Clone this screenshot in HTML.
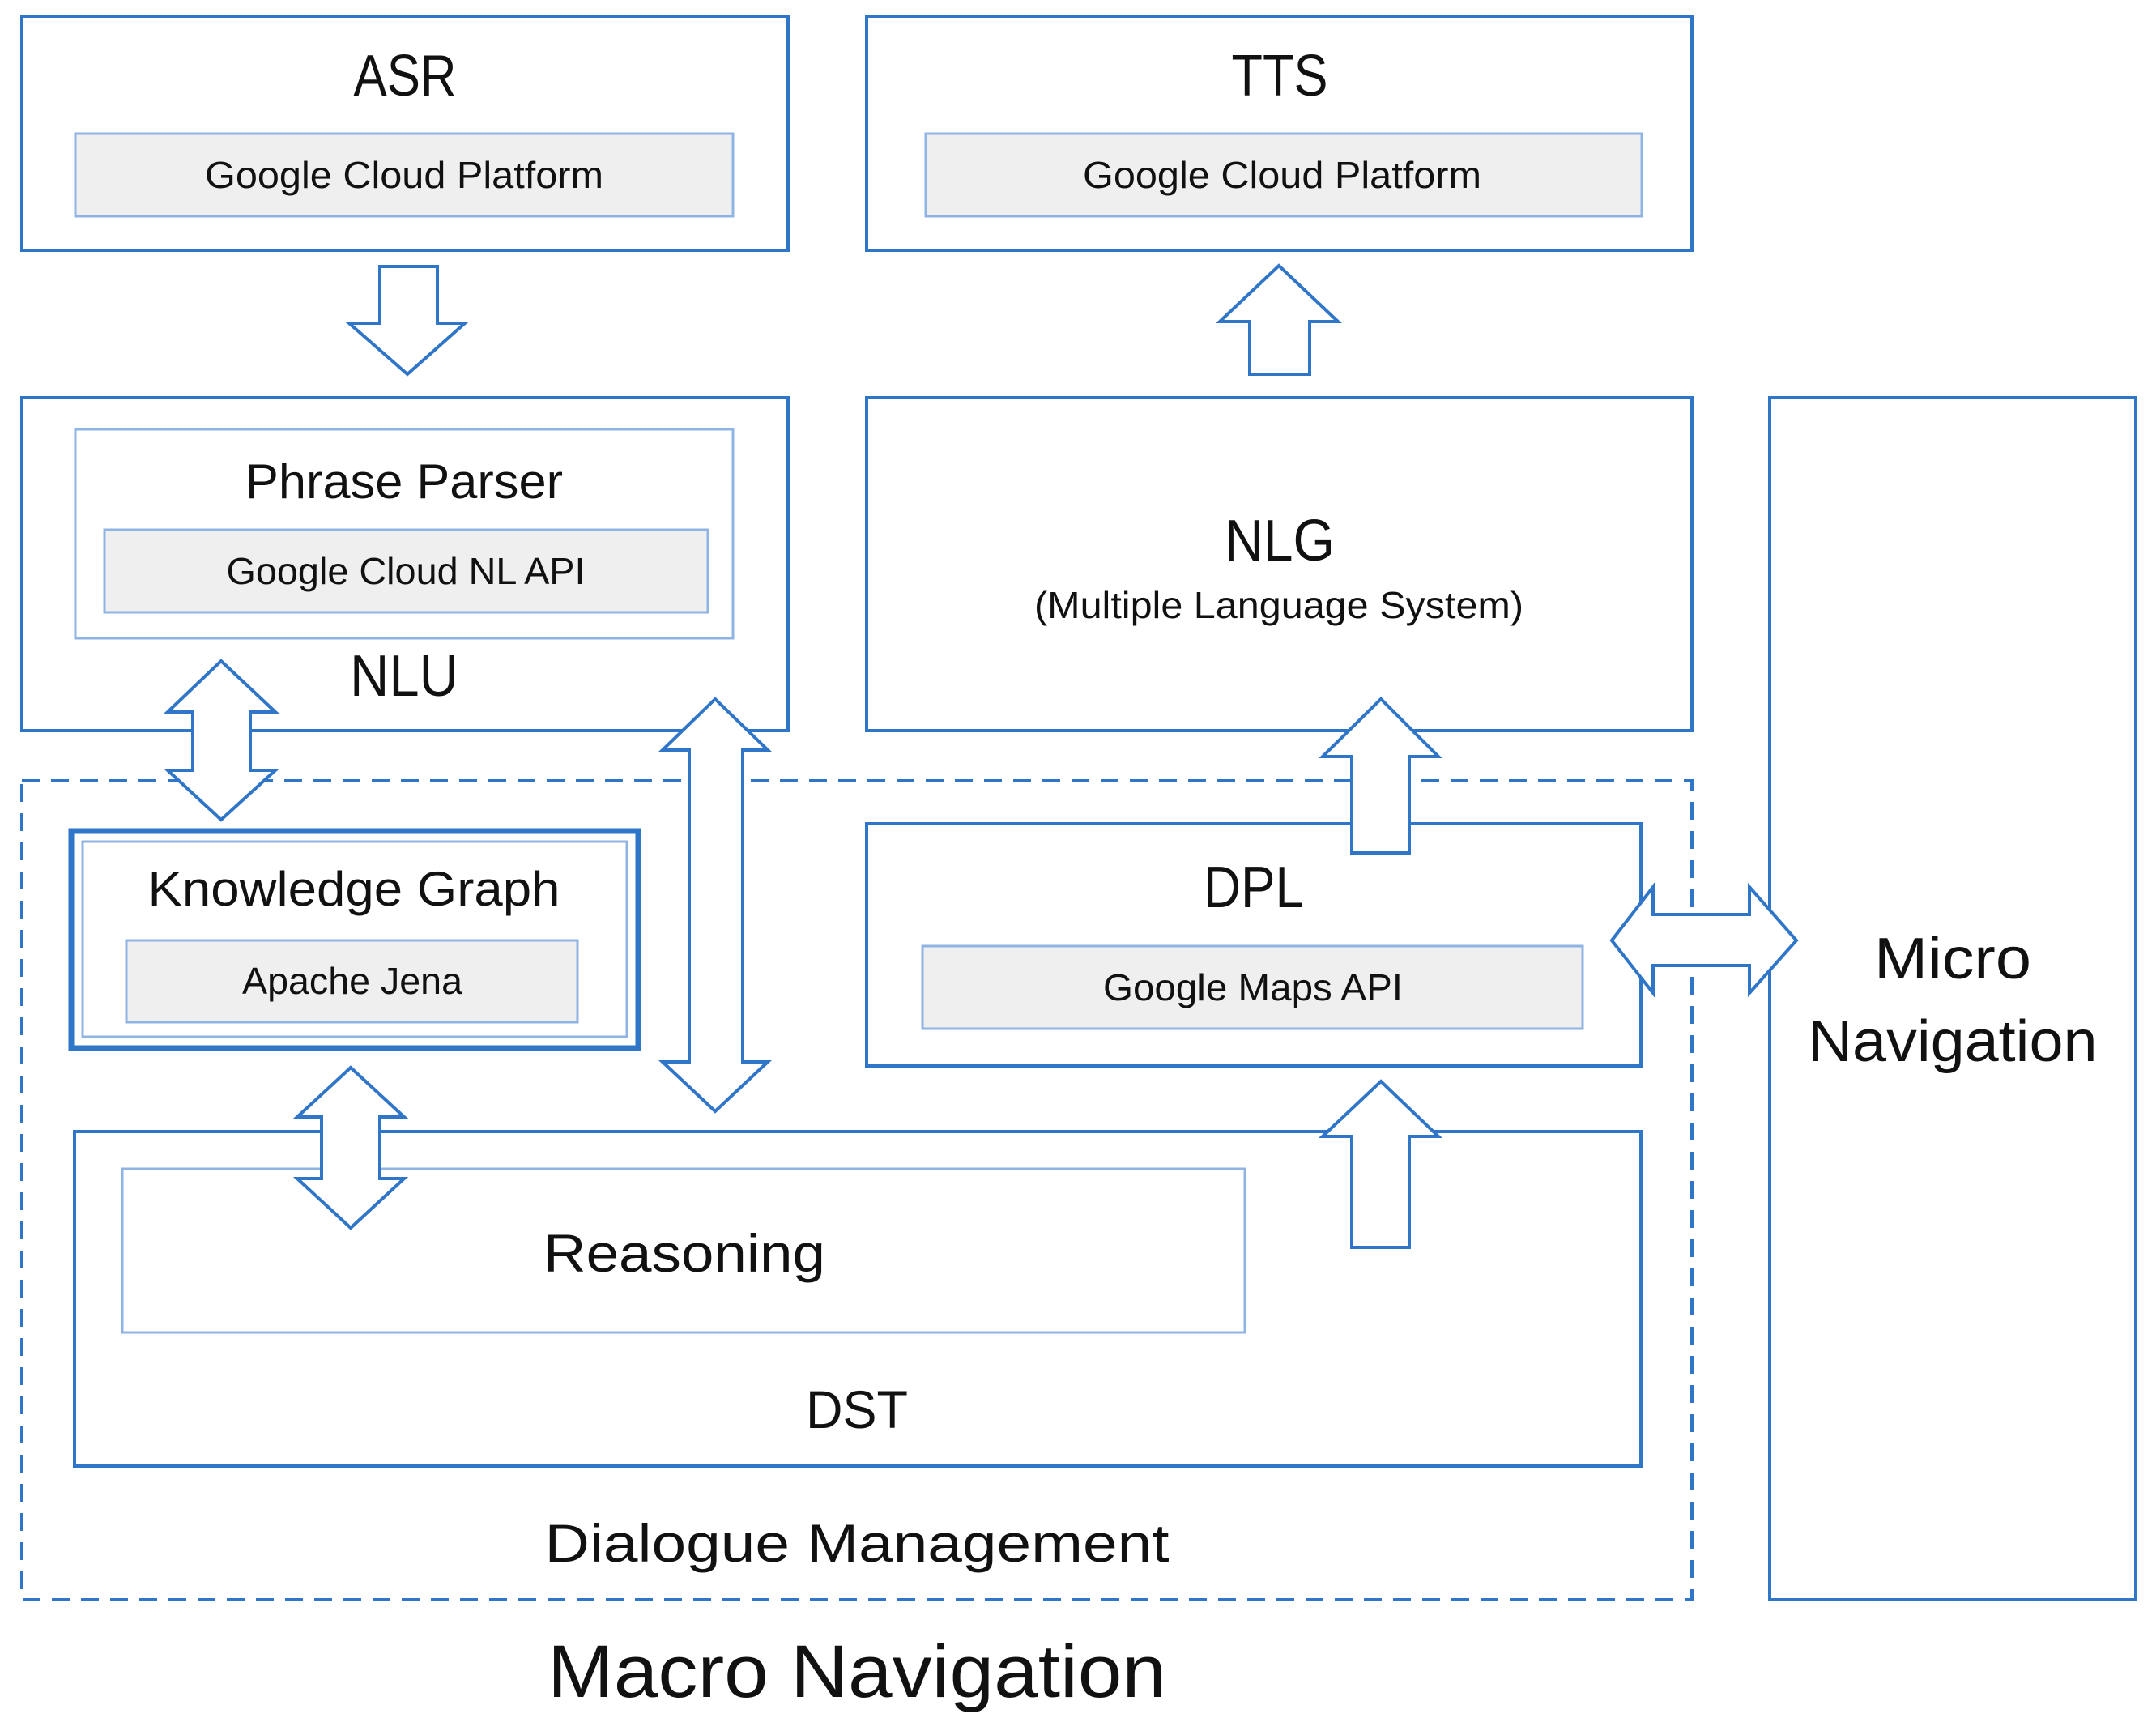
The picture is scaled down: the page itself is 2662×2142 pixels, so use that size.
<!DOCTYPE html>
<html><head><meta charset="utf-8"><style>html,body{margin:0;padding:0;background:#fff}svg{display:block}</style></head>
<body>
<svg width="2662" height="2142" viewBox="0 0 2662 2142" xmlns="http://www.w3.org/2000/svg" font-family="'Liberation Sans', sans-serif" fill="#111">
<g fill="#fff" stroke="#2f75c8" stroke-width="4">
  <rect x="27" y="20" width="946" height="289"/>
  <rect x="1070" y="20" width="1019" height="289"/>
  <rect x="27" y="491" width="946" height="411"/>
  <rect x="1070" y="491" width="1019" height="411"/>
  <rect x="2185" y="491" width="452" height="1484"/>
  <rect x="27" y="964" width="2062" height="1011" fill="none" stroke-dasharray="22,14"/>
  <rect x="88" y="1026" width="700" height="268" stroke-width="7"/>
  <rect x="1070" y="1017" width="956" height="299"/>
  <rect x="92" y="1397" width="1934" height="413"/>
</g>
<g stroke="#8fb4e3" stroke-width="3">
  <rect x="93" y="165" width="812" height="102" fill="#efefef"/>
  <rect x="1143" y="165" width="884" height="102" fill="#efefef"/>
  <rect x="93" y="530" width="812" height="258" fill="#fff"/>
  <rect x="129" y="654" width="745" height="102" fill="#efefef"/>
  <rect x="102" y="1039" width="672" height="241" fill="none"/>
  <rect x="156" y="1161" width="557" height="101" fill="#efefef"/>
  <rect x="1139" y="1168" width="815" height="102" fill="#efefef"/>
  <rect x="151" y="1443" width="1386" height="202" fill="#fff"/>
</g>
<g fill="#fff" stroke="#2f75c8" stroke-width="4" stroke-linejoin="miter">
  <!-- ASR -> NLU -->
  <polygon points="469,329 540,329 540,399 574,399 503,462 431,399 469,399"/>
  <!-- NLG -> TTS -->
  <polygon points="1543,462 1617,462 1617,397 1652,397 1579,328 1506,397 1543,397"/>
  <!-- NLU <-> KG -->
  <polygon points="273,816 340,879 309,879 309,951 340,951 273,1012 207,951 238,951 238,879 207,879"/>
  <!-- long vertical -->
  <polygon points="883,863 948,926 917,926 917,1311 948,1311 883,1372 818,1311 851,1311 851,926 818,926"/>
  <!-- KG <-> DST -->
  <polygon points="433,1318 499,1379 469,1379 469,1455 499,1455 433,1516 367,1455 397,1455 397,1379 367,1379"/>
  <!-- DPL -> NLG -->
  <polygon points="1669,1053 1740,1053 1740,934 1776,934 1705,863 1633,934 1669,934"/>
  <!-- DST -> DPL -->
  <polygon points="1669,1540 1740,1540 1740,1403 1776,1403 1705,1335 1633,1403 1669,1403"/>
  <!-- DPL <-> Micro -->
  <polygon points="1990,1161 2041,1095 2041,1129 2160,1129 2160,1095 2218,1161 2160,1226 2160,1192 2041,1192 2041,1226"/>
</g>
<g text-anchor="middle" lengthAdjust="spacingAndGlyphs">
  <text x="500" y="118" font-size="72" textLength="127" lengthAdjust="spacingAndGlyphs">ASR</text>
  <text x="1580" y="118" font-size="72" textLength="119" lengthAdjust="spacingAndGlyphs">TTS</text>
  <text x="499" y="232" font-size="46" textLength="492" lengthAdjust="spacingAndGlyphs">Google Cloud Platform</text>
  <text x="1583" y="232" font-size="46" textLength="492" lengthAdjust="spacingAndGlyphs">Google Cloud Platform</text>
  <text x="499" y="615" font-size="60" textLength="392" lengthAdjust="spacingAndGlyphs">Phrase Parser</text>
  <text x="501" y="721" font-size="46" textLength="443" lengthAdjust="spacingAndGlyphs">Google Cloud NL API</text>
  <text x="499" y="859" font-size="72" textLength="134" lengthAdjust="spacingAndGlyphs">NLU</text>
  <text x="1580" y="692" font-size="72" textLength="136" lengthAdjust="spacingAndGlyphs">NLG</text>
  <text x="1579" y="763" font-size="46" textLength="604" lengthAdjust="spacingAndGlyphs">(Multiple Language System)</text>
  <text x="2411" y="1208" font-size="72" textLength="194" lengthAdjust="spacingAndGlyphs">Micro</text>
  <text x="2411" y="1310" font-size="72" textLength="357" lengthAdjust="spacingAndGlyphs">Navigation</text>
  <text x="437" y="1118" font-size="60" textLength="509" lengthAdjust="spacingAndGlyphs">Knowledge Graph</text>
  <text x="435" y="1227" font-size="46" textLength="272" lengthAdjust="spacingAndGlyphs">Apache Jena</text>
  <text x="1548" y="1120" font-size="72" textLength="124" lengthAdjust="spacingAndGlyphs">DPL</text>
  <text x="1547" y="1235" font-size="46" textLength="370" lengthAdjust="spacingAndGlyphs">Google Maps API</text>
  <text x="845" y="1570" font-size="66" textLength="348" lengthAdjust="spacingAndGlyphs">Reasoning</text>
  <text x="1058" y="1763" font-size="66" textLength="126" lengthAdjust="spacingAndGlyphs">DST</text>
  <text x="1058" y="1928" font-size="66" textLength="771" lengthAdjust="spacingAndGlyphs">Dialogue Management</text>
  <text x="1058" y="2095" font-size="92" textLength="764" lengthAdjust="spacingAndGlyphs">Macro Navigation</text>
</g>
</svg>
</body></html>
